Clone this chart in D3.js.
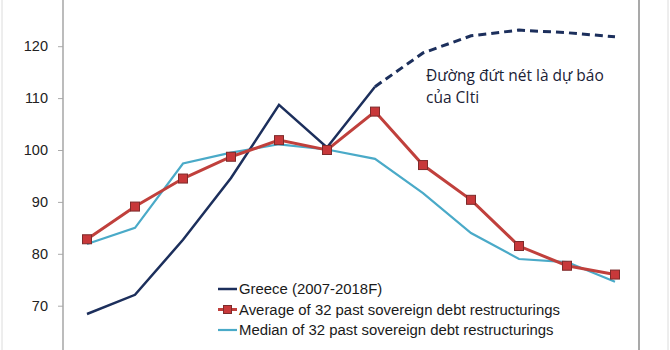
<!DOCTYPE html>
<html>
<head>
<meta charset="utf-8">
<script src="https://cdn.jsdelivr.net/npm/d3@7"></script>
<style>
  body { margin: 0; background: #fff; }
  svg { display: block; }
  .tick-label { font-family: Arial, "Liberation Sans", sans-serif; font-size: 14.5px; fill: #222; }
  .legend-label { font-family: Arial, "Liberation Sans", sans-serif; font-size: 14.9px; fill: #1a1a1a; }
  .note { font-family: "Open Sans", "Noto Sans", sans-serif; font-size: 15.5px; fill: #1b2236; }
</style>
</head>
<body>
<div id="wrapper"></div>
<script>
// 1. Data
const years = d3.range(2007, 2019)
const greece = [68.4, 72.1, 82.7, 94.6, 108.7, 100.5, 112.2, 118.7, 122.0, 123.1, 122.6, 121.8]
const greeceActualUntil = 2013 // dashed afterwards (Citi forecast)
const average = [82.8, 89.1, 94.5, 98.7, 101.9, 100.0, 107.4, 97.1, 90.4, 81.5, 77.7, 76.0]
const median = [81.9, 85.0, 97.4, 99.5, 101.1, 100.1, 98.3, 91.7, 84.0, 79.0, 78.4, 74.6]
const yTicks = [60, 70, 80, 90, 100, 110, 120, 130]
const legendItems = [
  { name: "Greece (2007-2018F)", color: "#1c2f5c", marker: false, width: 2.5 },
  { name: "Average of 32 past sovereign debt restructurings", color: "#c0403c", marker: true, width: 3 },
  { name: "Median of 32 past sovereign debt restructurings", color: "#4aaac8", marker: false, width: 2.2 },
]
const noteLines = ["Đường đứt nét là dự báo", "của CIti"]

// 2. Dimensions
const width = 670
const height = 350
const plot = { left: 63, right: 639 }

// 3. Canvas
const svg = d3.select("#wrapper").append("svg")
  .attr("width", width)
  .attr("height", height)

// 4. Scales
const xScale = d3.scaleBand()
  .domain(years)
  .range([plot.left, plot.right])
const xPos = y => xScale(y) + xScale.bandwidth() / 2

const yScale = d3.scaleLinear()
  .domain([60, 130])
  .range([357.6, -5.7])

// frame lines
svg.append("line")
  .attr("x1", 2).attr("x2", 2).attr("y1", 0).attr("y2", height)
  .attr("stroke", "#dcdcdc").attr("stroke-width", 1)
svg.append("line")
  .attr("x1", 668).attr("x2", 668).attr("y1", 0).attr("y2", height)
  .attr("stroke", "#dcdcdc").attr("stroke-width", 1)
svg.append("line")
  .attr("x1", plot.right).attr("x2", plot.right).attr("y1", 0).attr("y2", height)
  .attr("stroke", "#a9a9a9").attr("stroke-width", 2)

// 5. Axis (130 and 60 sit partly outside the picture, as in the source crop)
const yAxis = svg.append("g")
  .attr("transform", `translate(${plot.left},0)`)
  .call(d3.axisLeft(yScale).tickValues(yTicks).tickSize(5).tickPadding(10).tickFormat(d3.format("d")))
yAxis.select(".domain").remove()
yAxis.selectAll(".tick line").attr("stroke", "#aaa")
yAxis.selectAll(".tick text").attr("class", "tick-label").attr("fill", null)
svg.append("line")
  .attr("x1", plot.left).attr("x2", plot.left).attr("y1", 0).attr("y2", height)
  .attr("stroke", "#a6a6a6").attr("stroke-width", 1.5)

// 6. Lines
const line = d3.line()
  .x(d => xPos(d.year))
  .y(d => yScale(d.value))

const toPoints = arr => years.map((year, i) => ({ year, value: arr[i] }))
const greecePts = toPoints(greece)
const averagePts = toPoints(average)
const medianPts = toPoints(median)

svg.append("path")
  .attr("d", line(medianPts))
  .attr("fill", "none")
  .attr("stroke", legendItems[2].color)
  .attr("stroke-width", legendItems[2].width)

svg.append("path")
  .attr("d", line(greecePts.filter(d => d.year <= greeceActualUntil)))
  .attr("fill", "none")
  .attr("stroke", legendItems[0].color)
  .attr("stroke-width", legendItems[0].width)
svg.append("path")
  .attr("d", line(greecePts.filter(d => d.year >= greeceActualUntil)))
  .attr("fill", "none")
  .attr("stroke", legendItems[0].color)
  .attr("stroke-width", 3)
  .attr("stroke-dasharray", "8,5")

svg.append("path")
  .attr("d", line(averagePts))
  .attr("fill", "none")
  .attr("stroke", legendItems[1].color)
  .attr("stroke-width", legendItems[1].width)

svg.selectAll(".avg-marker")
  .data(averagePts)
  .enter().append("rect")
  .attr("class", "avg-marker")
  .attr("x", d => xPos(d.year) - 4.5)
  .attr("y", d => yScale(d.value) - 4.5)
  .attr("width", 9)
  .attr("height", 9)
  .attr("fill", "#c8383a")
  .attr("stroke", "#7d2b2b")
  .attr("stroke-width", 1)

// 7. Legend
const legend = svg.append("g")
  .attr("transform", "translate(218,289)")
const rows = legend.selectAll("g")
  .data(legendItems)
  .enter().append("g")
  .attr("transform", (d, i) => `translate(0,${i * 20.5})`)
rows.append("line")
  .attr("x1", 0).attr("x2", 19)
  .attr("stroke", d => d.color)
  .attr("stroke-width", d => d.width)
rows.filter(d => d.marker).append("rect")
  .attr("x", 5.5).attr("y", -4)
  .attr("width", 8).attr("height", 8)
  .attr("fill", "#c8383a")
  .attr("stroke", "#7d2b2b")
rows.append("text")
  .attr("class", "legend-label")
  .attr("x", 21)
  .attr("dy", "0.36em")
  .text(d => d.name)

// 8. Annotation
svg.append("text")
  .attr("class", "note")
  .selectAll("tspan")
  .data(noteLines)
  .enter().append("tspan")
  .attr("x", 426)
  .attr("y", (d, i) => 81 + i * 22)
  .text(d => d)
</script>
</body>
</html>
